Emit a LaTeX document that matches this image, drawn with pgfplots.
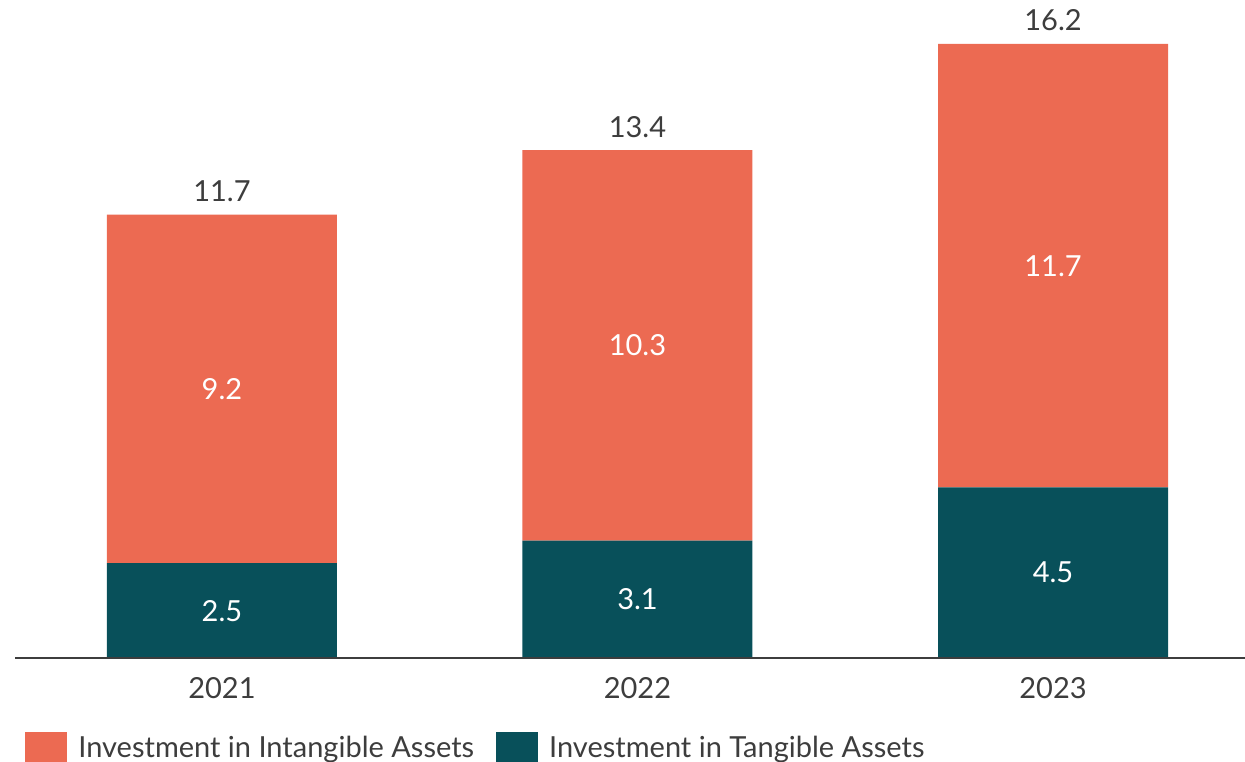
\documentclass[border=0pt]{standalone}
\usepackage{pgfplots}
\pgfplotsset{compat=1.18}
\usepackage{fontspec}
\setmainfont{Lato}
\definecolor{orng}{HTML}{EC6A52}
\definecolor{tealc}{HTML}{08505A}
\definecolor{txt}{HTML}{3D3D3D}
\begin{document}
\begin{tikzpicture}[font=\fontsize{14.5}{17}\selectfont]
\begin{axis}[name=ax, scale only axis, width=615pt, height=329pt,
  ybar stacked, bar width=115pt,
  xmin=-0.498, xmax=2.462, ymin=0, ymax=17.36,
  axis x line*=bottom, axis y line=none,
  x axis line style={draw=txt, line width=1pt},
  axis on top,
  xtick={0,1,2}, xticklabels={2021,2022,2023}, major tick length=0pt,
  xticklabel style={text=txt, inner sep=0pt, yshift=-9.5pt},
  /pgf/number format/assume math mode=true,
  reverse legend,
  legend style={draw=none, fill=none, at={(0,0)}, anchor=north west,
    xshift=5pt, yshift=-37pt, legend columns=2, inner sep=0pt,
    nodes={inner sep=0pt, text=txt},
    /tikz/every even column/.append style={column sep=11pt}},
  legend image code/.code={\fill[#1] (0pt,-13pt) rectangle (21pt,7.75pt); \path (26.5pt,0pt);},
  ]
\addplot[fill=tealc, draw=none] coordinates {(0,2.5) (1,3.1) (2,4.5)};
\addplot[fill=orng, draw=none] coordinates {(0,9.2) (1,10.3) (2,11.7)};
\legend{Investment in Tangible Assets, Investment in Intangible Assets}
\end{axis}
\begin{axis}[at={(ax.south west)}, anchor=south west, scale only axis, width=615pt, height=329pt,
  xmin=-0.498, xmax=2.462, ymin=0, ymax=17.36, axis lines=none,
  point meta=explicit symbolic, nodes near coords]
\addplot[draw=none, mark=none, nodes near coords style={white, anchor=center, inner sep=0pt}]
  coordinates {(0,1.25)[2.5] (1,1.55)[3.1] (2,2.25)[4.5]};
\addplot[draw=none, mark=none, nodes near coords style={white, anchor=center, inner sep=0pt}]
  coordinates {(0,7.1)[9.2] (1,8.25)[10.3] (2,10.35)[11.7]};
\addplot[draw=none, mark=none, nodes near coords style={text=txt, anchor=base, inner sep=0pt, yshift=6.5pt}]
  coordinates {(0,11.7)[11.7] (1,13.4)[13.4] (2,16.2)[16.2]};
\end{axis}
\pgfresetboundingbox
\path[use as bounding box] ([xshift=-7.5pt]ax.north west) rectangle ([yshift=-51.5pt]ax.south east);
\end{tikzpicture}
\end{document}
